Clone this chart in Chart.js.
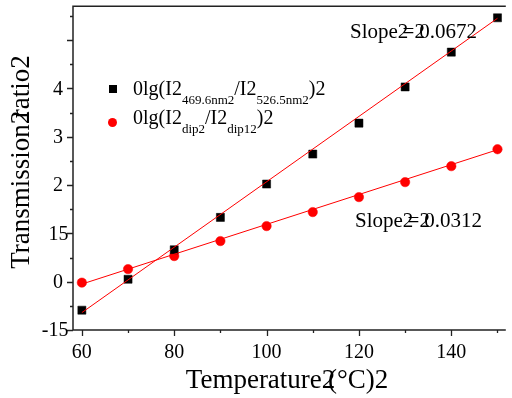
<!DOCTYPE html>
<html>
<head>
<meta charset="utf-8">
<script src="https://cdn.jsdelivr.net/npm/chart.js@4.4.1/dist/chart.umd.min.js"></script>
<style>
  html, body { margin: 0; padding: 0; background: #fff; }
  #wrap { width: 512px; height: 398px; }
</style>
</head>
<body>
<div id="wrap"><canvas id="chart" width="512" height="398"></canvas></div>
<script>
// measured values
const temps = [60, 70, 80, 90, 100, 110, 120, 130, 140, 150]
const ratioWave = [-0.59, 0.05, 0.66, 1.33, 2.02, 2.64, 3.28, 4.03, 4.75, 5.46]
const ratioDip = [-0.02, 0.26, 0.53, 0.84, 1.15, 1.44, 1.75, 2.06, 2.39, 2.74]
const fitX = [60, 150]
const fitWave = [-0.64, 5.45]
const fitDip = [-0.05, 2.73]

const xTickValues = [60, 80, 100, 120, 140]
const xTickLabels = ['60', '80', '100', '120', '140']
const yTickValues = [-1, 0, 1, 2, 3, 4]
// '^' marks a glyph that only half advances (overlapping glyphs in the original)
const yTickLabels = ['-1^5', '0', '1^5', '2', '3', '4']

const xTitle = 'Temperature^2(°C)2'
const yTitle = 'Transmission^2ratio2'
const slopeTexts = ['Slope^2=^20.0672', 'Slope^2=^20.0312']
// '_' marks a subscript part
const legendWave = ['0lg(I2', '_469.6nm2', '/I2', '_526.5nm2', ')2']
const legendDip = ['0lg(I2', '_dip2', '/I2', '_dip12', ')2']

const SERIF = '"Liberation Serif", "Times New Roman", serif'

function parseGarbled(s) {
  const segs = []
  let cur = ''
  for (let i = 0; i < s.length; i++) {
    if (s[i] === '^') {
      if (cur) { segs.push({ t: cur, adv: 1 }); cur = '' }
      segs.push({ t: s[i + 1], adv: 0.45 })
      i++
    } else {
      cur += s[i]
    }
  }
  if (cur) segs.push({ t: cur, adv: 1 })
  return segs
}

function garbledWidth(ctx, s) {
  return parseGarbled(s).reduce((w, seg) => w + seg.adv * ctx.measureText(seg.t).width, 0)
}

// align: 'left' | 'center' | 'right'
function drawGarbled(ctx, s, x, y, align) {
  const w = garbledWidth(ctx, s)
  let cx = align === 'center' ? x - w / 2 : align === 'right' ? x - w : x
  ctx.textAlign = 'left'
  parseGarbled(s).forEach(seg => {
    ctx.fillText(seg.t, cx, y)
    cx += seg.adv * ctx.measureText(seg.t).width
  })
}

function drawSubText(ctx, parts, x, y) {
  let cx = x
  ctx.textAlign = 'left'
  ctx.textBaseline = 'alphabetic'
  parts.forEach(p => {
    const sub = p[0] === '_'
    const t = sub ? p.slice(1) : p
    ctx.font = (sub ? '13px ' : '20px ') + SERIF
    ctx.fillText(t, cx, sub ? y + 9 : y)
    cx += ctx.measureText(t).width
  })
}

const overlay = {
  id: 'overlay',
  beforeDraw(chart) {
    const ctx = chart.ctx
    ctx.save()
    ctx.fillStyle = '#fff'
    ctx.fillRect(0, 0, chart.width, chart.height)
    ctx.restore()
  },
  afterDraw(chart) {
    const ctx = chart.ctx
    const { left, top, right, bottom } = chart.chartArea
    const xs = chart.scales.x
    const ys = chart.scales.y
    ctx.save()

    // axis frame: left, bottom, top
    ctx.strokeStyle = '#222'
    ctx.lineWidth = 1.5
    ctx.beginPath()
    ctx.moveTo(right, top); ctx.lineTo(left, top); ctx.lineTo(left, bottom); ctx.lineTo(right, bottom)
    ctx.stroke()

    // tick marks
    ctx.lineWidth = 1.3
    ctx.beginPath()
    for (let v = -1; v <= 5.5; v += 0.5) {
      const py = Math.round(ys.getPixelForValue(v)) + 0.5
      const len = Number.isInteger(v) ? 6 : 3
      ctx.moveTo(left, py); ctx.lineTo(left - len, py)
    }
    for (let v = 60; v <= 150; v += 10) {
      const px = Math.round(xs.getPixelForValue(v)) + 0.5
      const len = v % 20 === 0 ? 6 : 3
      ctx.moveTo(px, bottom); ctx.lineTo(px, bottom + len)
    }
    ctx.stroke()

    ctx.fillStyle = '#000'
    ctx.font = '20px ' + SERIF

    // x tick labels
    ctx.textBaseline = 'alphabetic'
    xTickValues.forEach((v, i) => {
      drawGarbled(ctx, xTickLabels[i], xs.getPixelForValue(v), bottom + 28, 'center')
    })

    // y tick labels
    ctx.textBaseline = 'middle'
    yTickValues.forEach((v, i) => {
      drawGarbled(ctx, yTickLabels[i], left - 10, ys.getPixelForValue(v) + 1, 'right')
    })

    // axis titles
    ctx.font = '27px ' + SERIF
    ctx.textBaseline = 'alphabetic'
    drawGarbled(ctx, xTitle, 287, 388, 'center')
    ctx.save()
    ctx.translate(29, 162)
    ctx.rotate(-Math.PI / 2)
    drawGarbled(ctx, yTitle, 0, 0, 'center')
    ctx.restore()

    // slope annotations
    ctx.font = '21px ' + SERIF
    drawGarbled(ctx, slopeTexts[0], 350, 38, 'left')
    drawGarbled(ctx, slopeTexts[1], 355, 227, 'left')

    // legend
    ctx.fillStyle = '#000'
    ctx.fillRect(109, 85, 8, 8)
    ctx.fillStyle = '#ff0000'
    ctx.beginPath()
    ctx.arc(112.5, 122.5, 4.5, 0, Math.PI * 2)
    ctx.fill()
    ctx.fillStyle = '#000'
    drawSubText(ctx, legendWave, 133, 95)
    drawSubText(ctx, legendDip, 133, 124)

    ctx.restore()
  }
}

const toPoints = (xv, yv) => xv.map((x, i) => ({ x, y: yv[i] }))

new Chart(document.getElementById('chart'), {
  type: 'scatter',
  data: {
    datasets: [
      {
        data: toPoints(fitX, fitWave),
        showLine: true,
        borderColor: '#ff0000',
        borderWidth: 1,
        pointRadius: 0,
        order: 0,
      },
      {
        data: toPoints(fitX, fitDip),
        showLine: true,
        borderColor: '#ff0000',
        borderWidth: 1,
        pointRadius: 0,
        order: 0,
      },
      {
        data: toPoints(temps, ratioWave),
        pointStyle: 'rect',
        pointRadius: 5.7,
        backgroundColor: '#000',
        borderColor: '#000',
        borderWidth: 0.5,
        order: 1,
      },
      {
        data: toPoints(temps, ratioDip),
        pointStyle: 'circle',
        pointRadius: 4.7,
        backgroundColor: '#ff0000',
        borderColor: '#ff0000',
        borderWidth: 0.5,
        order: 1,
      },
    ],
  },
  options: {
    responsive: false,
    animation: false,
    devicePixelRatio: 1,
    layout: { padding: { left: 73, top: 6, right: 0, bottom: 68 } },
    plugins: { legend: { display: false }, tooltip: { enabled: false } },
    scales: {
      x: { type: 'linear', display: false, min: 58.08, max: 151.8 },
      y: { type: 'linear', display: false, min: -1, max: 5.7 },
    },
  },
  plugins: [overlay],
})
</script>
</body>
</html>
